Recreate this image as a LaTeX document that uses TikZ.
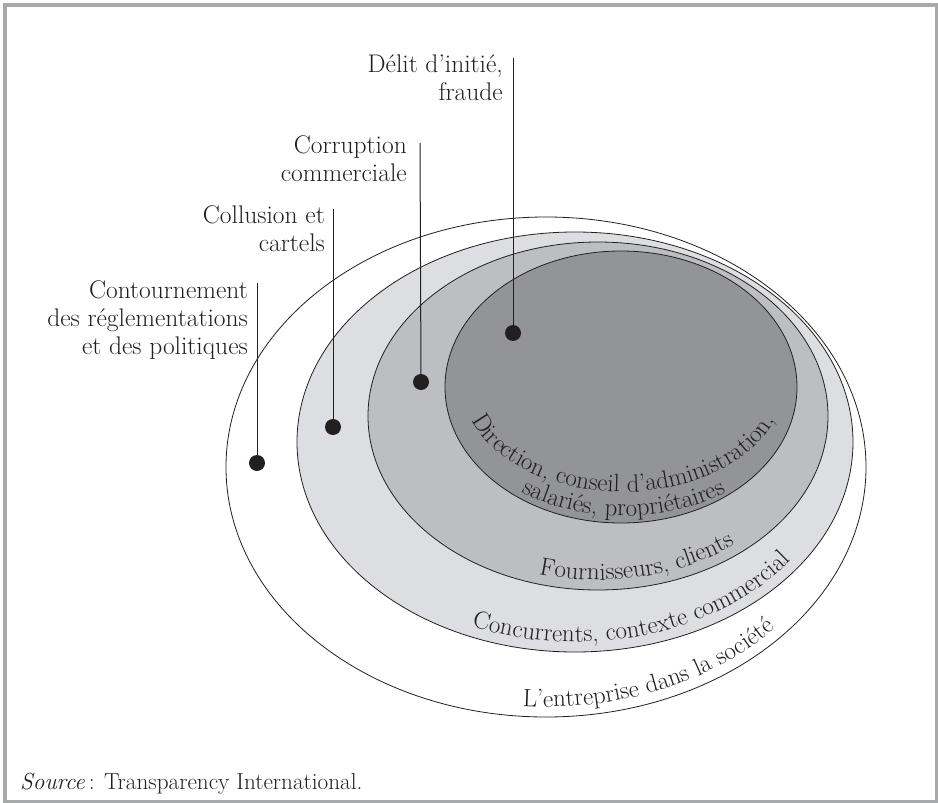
\documentclass[tikz,border=0pt]{standalone}
\usetikzlibrary{decorations.text}
\definecolor{ink}{RGB}{35,31,32}
\definecolor{framec}{RGB}{168,169,173}
\definecolor{lightfill}{RGB}{221,222,225}
\definecolor{midfill}{RGB}{189,190,194}
\definecolor{darkfill}{RGB}{147,148,152}
\newcommand{\arcfont}{\fontsize{25}{28}\selectfont}
\begin{document}
\begin{tikzpicture}[x=1pt,y=-1pt,
  ring/.style={draw=ink, line width=0.8pt},
  leader/.style={draw=ink, line width=1pt},
  dot/.style={circle, fill=ink, inner sep=0pt, minimum size=16pt},
  label/.style={anchor=base east, inner sep=0pt, text=ink, font=\fontsize{25.5}{28}\selectfont},
  arctext/.style={decorate, decoration={text along path, text align=center, text color=ink,
     text={|\arcfont|#1}}},
]
\useasboundingbox (0,0) rectangle (938,803);
\fill[white] (0,0) rectangle (938,803);
\draw[framec, line width=4.5pt] (5,5) rectangle (937,802);

% ellipses
\draw[ring, fill=white] (546,467) ellipse [x radius=320, y radius=250];
\draw[ring, fill=lightfill] (575,442) ellipse [x radius=278, y radius=210];
\draw[ring, fill=midfill] (598,416) ellipse [x radius=230, y radius=174];
\draw[ring, fill=darkfill] (621,387) ellipse [x radius=176, y radius=136];

% curved texts
\path[arctext={Direction, conseil d’administration,}]
  (623,386) ++(172:160 and 106) arc[start angle=172, end angle=8, x radius=160, y radius=106];
\path[arctext={salariés, propriétaires}]
  (624,387) ++(160:178 and 129) arc[start angle=160, end angle=20, x radius=178, y radius=129];
\path[arctext={Fournisseurs, clients}]
  (598,416) ++(146:220 and 164) arc[start angle=146, end angle=6, x radius=220, y radius=164];
\path[arctext={Concurrents, contexte commercial}]
  (575,442) ++(143:268 and 200) arc[start angle=143, end angle=1, x radius=268, y radius=200];
\path[arctext={L’entreprise dans la société}]
  (546,467) ++(130:310 and 240) arc[start angle=130, end angle=0, x radius=310, y radius=240];

% labels
\node[label] (l1) at (503,72) {\begin{tabular}[t]{@{}r@{}}Délit d’initié,\\fraude\end{tabular}};
\node[label] (l2) at (407,153) {\begin{tabular}[t]{@{}r@{}}Corruption\\commerciale\end{tabular}};
\node[label] (l3) at (325,223) {\begin{tabular}[t]{@{}r@{}}Collusion et\\cartels\end{tabular}};
\node[label] (l4) at (248,298) {\begin{tabular}[t]{@{}r@{}}Contournement\\des réglementations\\et des politiques\end{tabular}};

% leaders and dots
\node[dot] (d1) at (513,333) {};
\node[dot] (d2) at (421,382) {};
\node[dot] (d3) at (333,427) {};
\node[dot] (d4) at (257,463) {};
\coordinate (t1) at (513,58);
\coordinate (t2) at (420,143);
\coordinate (t3) at (333,209);
\coordinate (t4) at (257,283);
\draw[leader] (t1) -- (d1.center);
\draw[leader] (t2) -- (d2.center);
\draw[leader] (t3) -- (d3.center);
\draw[leader] (t4) -- (d4.center);

% source
\node[anchor=base west, inner sep=0pt, text=ink, font=\fontsize{23.2}{27}\selectfont] (src) at (20,789) {\textit{Source}\,: Transparency International.};
\end{tikzpicture}
\end{document}
